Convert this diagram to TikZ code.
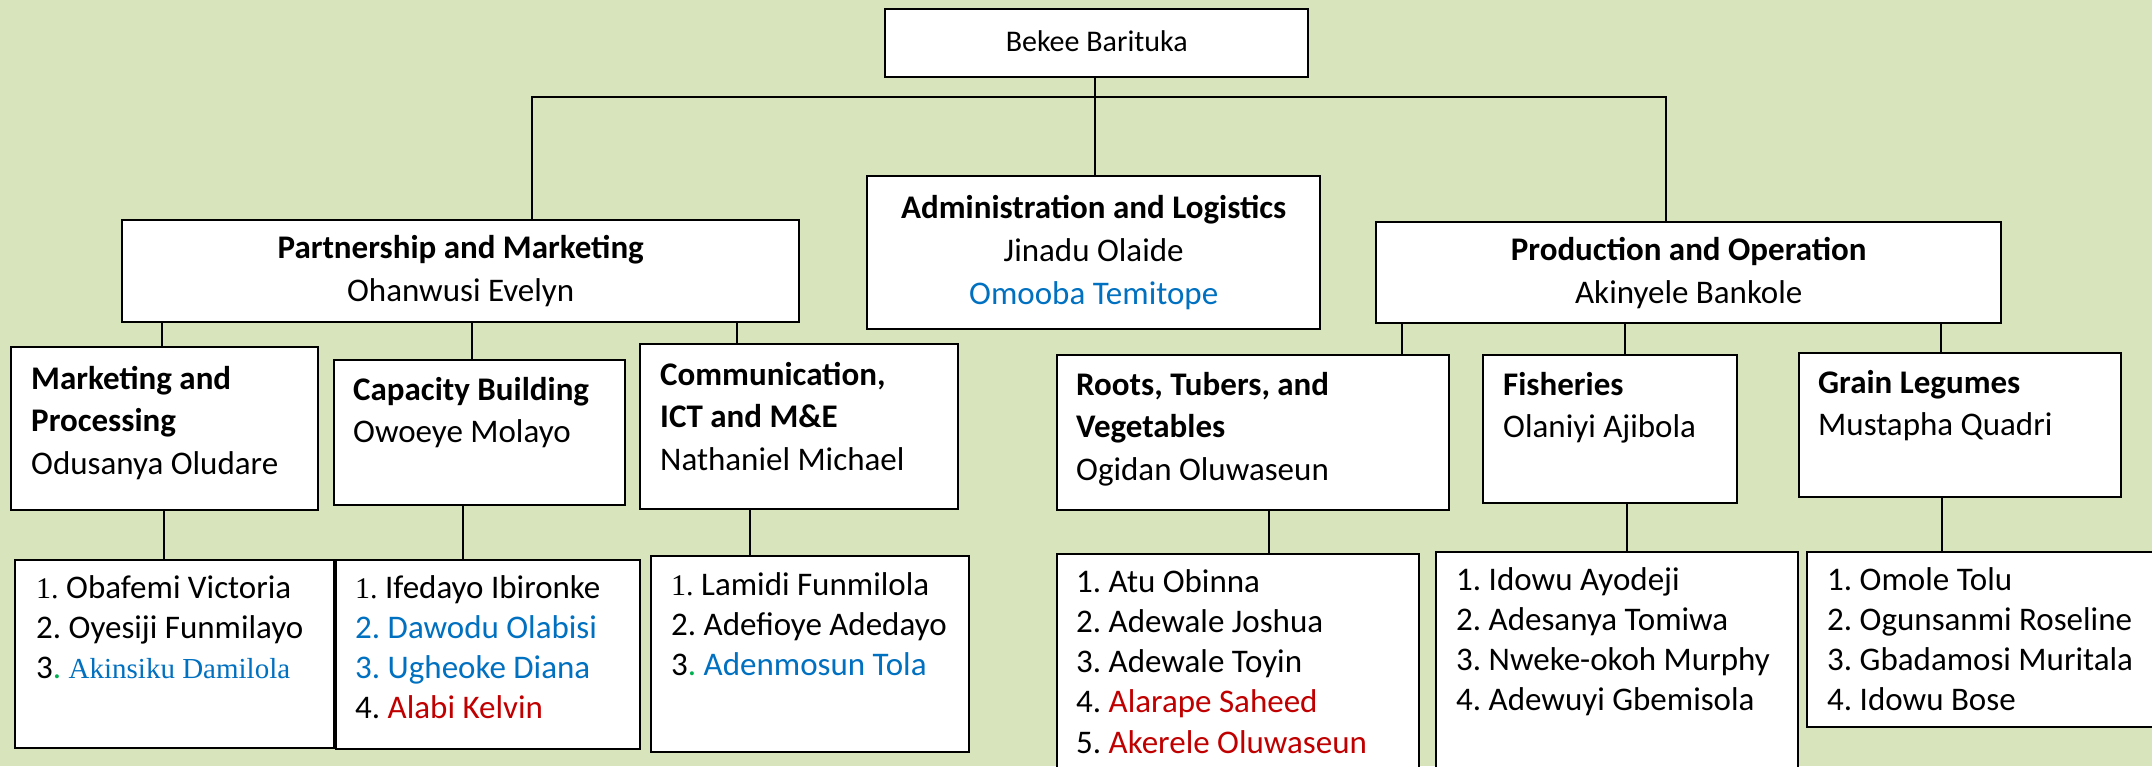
\documentclass[tikz,border=0pt]{standalone}
\usepackage{fontspec}
\setmainfont{Carlito}
\newfontfamily\numserif{Liberation Serif}
\definecolor{bgolive}{HTML}{D8E4BC}
\definecolor{namblue}{HTML}{0070C0}
\definecolor{namred}{HTML}{C00000}
\definecolor{dotgreen}{HTML}{00B050}
\frenchspacing

\begin{document}
\begin{tikzpicture}[
  x=1pt, y=-1pt,
  font=\fontsize{33}{43}\selectfont,
  unit/.style={draw=black, line width=2.4pt, fill=white, inner sep=0pt, anchor=north west},
  chief/.style={unit, align=center},
  wire/.style={black, line width=1.6pt},
  deptxt/.style={anchor=base west, inner sep=0pt, text width=390pt, align=flush left, font=\fontsize{33}{42.5}\selectfont},
  roll/.style={deptxt, font=\fontsize{33}{40.3}\selectfont},
]
\useasboundingbox (0,0) rectangle (2152,766);
\clip (0,0) rectangle (2152,766);
\fill[bgolive] (0,0) rectangle (2152,766);
% top levels
\node[unit, minimum width=423pt, minimum height=68pt, font=\fontsize{30}{36}\selectfont] (ceo) at (884,8) {\raisebox{5pt}{Bekee Barituka}};
\node[chief, minimum width=677pt, minimum height=102pt] (pm) at (121,219) {\textbf{Partnership and Marketing}\\Ohanwusi Evelyn};
\node[chief, minimum width=453pt, minimum height=153pt] (al) at (866,175) {\textbf{Administration and Logistics}\\Jinadu Olaide\\\textcolor{namblue}{Omooba Temitope}};
\node[chief, minimum width=625pt, minimum height=101pt] (po) at (1375,221) {\textbf{Production and Operation}\\Akinyele Bankole};
% units
\node[unit, minimum width=307pt, minimum height=163pt] (mp) at (10,346) {};
\node[deptxt] (mpT) at (31,389) {\textbf{Marketing and}\\\textbf{Processing}\\Odusanya Oludare};
\node[unit, minimum width=291pt, minimum height=145pt] (cb) at (333,359) {};
\node[deptxt] (cbT) at (353,400) {\textbf{Capacity Building}\\Owoeye Molayo};
\node[unit, minimum width=318pt, minimum height=165pt] (ict) at (639,343) {};
\node[deptxt] (ictT) at (660,385) {\textbf{Communication,}\\\textbf{ICT and M\&E}\\Nathaniel Michael};
\node[unit, minimum width=392pt, minimum height=155pt] (rtv) at (1056,354) {};
\node[deptxt] (rtvT) at (1076,395) {\textbf{Roots, Tubers, and}\\\textbf{Vegetables}\\Ogidan Oluwaseun};
\node[unit, minimum width=254pt, minimum height=148pt] (fish) at (1482,354) {};
\node[deptxt] (fishT) at (1503,395) {\textbf{Fisheries}\\Olaniyi Ajibola};
\node[unit, minimum width=322pt, minimum height=144pt] (grain) at (1798,352) {};
\node[deptxt] (grainT) at (1818,393) {\textbf{Grain Legumes}\\Mustapha Quadri};
% staff lists
\node[unit, minimum width=319pt, minimum height=188pt] (lmp) at (14,559) {};
\node[roll] (lmpT) at (36,598) {{\numserif\fontsize{30}{40}\selectfont 1.} Obafemi Victoria\\2. Oyesiji Funmilayo\\3\textcolor{dotgreen}{.} \textcolor{namblue}{\numserif\fontsize{29}{40}\selectfont Akinsiku Damilola}};
\node[unit, minimum width=304pt, minimum height=189pt] (lcb) at (335,559) {};
\node[roll] (lcbT) at (355,598) {{\numserif\fontsize{30}{40}\selectfont 1.} Ifedayo Ibironke\\\textcolor{namblue}{2. Dawodu Olabisi}\\\textcolor{namblue}{3. Ugheoke Diana}\\4. \textcolor{namred}{Alabi Kelvin}};
\node[unit, minimum width=318pt, minimum height=196pt] (lict) at (650,555) {};
\node[roll] (lictT) at (671,595) {{\numserif\fontsize{30}{40}\selectfont 1.} Lamidi Funmilola\\2. Adefioye Adedayo\\3\textcolor{dotgreen}{.} \textcolor{namblue}{Adenmosun Tola}};
\node[unit, minimum width=362pt, minimum height=240pt] (lrtv) at (1056,553) {};
\node[roll] (lrtvT) at (1076,592) {1. Atu Obinna\\2. Adewale Joshua\\3. Adewale Toyin\\4. \textcolor{namred}{Alarape Saheed}\\5. \textcolor{namred}{Akerele Oluwaseun}};
\node[unit, minimum width=362pt, minimum height=240pt] (lfish) at (1435,551) {};
\node[roll] (lfishT) at (1456,590) {1. Idowu Ayodeji\\2. Adesanya Tomiwa\\3. Nweke-okoh Murphy\\4. Adewuyi Gbemisola};
\node[unit, minimum width=370pt, minimum height=175pt] (lgrain) at (1806,551) {};
\node[roll] (lgrainT) at (1827,590) {1. Omole Tolu\\2. Ogunsanmi Roseline\\3. Gbadamosi Muritala\\4. Idowu Bose};
% connectors
\coordinate (busL) at (532,97);
\coordinate (busR) at (1666,97);
\draw[wire] (pm.north -| busL) -- (busL) -- (busR) -- (po.north -| busR);
\draw[wire] ([xshift=-1.5pt]ceo.south) -- ([xshift=-1.5pt]ceo.south |- al.north);
\draw[wire] ([xshift=-2.5pt]mp.north) -- ([xshift=-2.5pt]mp.north |- pm.south);
\draw[wire] ([xshift=-7.5pt]cb.north) -- ([xshift=-7.5pt]cb.north |- pm.south);
\draw[wire] ([xshift=-62pt]ict.north) -- ([xshift=-62pt]ict.north |- pm.south);
\draw[wire] ([xshift=149pt]rtv.north) -- ([xshift=149pt]rtv.north |- po.south);
\draw[wire] ([xshift=15pt]fish.north) -- ([xshift=15pt]fish.north |- po.south);
\draw[wire] ([xshift=-19pt]grain.north) -- ([xshift=-19pt]grain.north |- po.south);
\draw[wire] ([xshift=-1pt]mp.south) -- ([xshift=-1pt]mp.south |- lmp.north);
\draw[wire] ([xshift=-17pt]cb.south) -- ([xshift=-17pt]cb.south |- lcb.north);
\draw[wire] ([xshift=-49.5pt]ict.south) -- ([xshift=-49.5pt]ict.south |- lict.north);
\draw[wire] ([xshift=16pt]rtv.south) -- ([xshift=16pt]rtv.south |- lrtv.north);
\draw[wire] ([xshift=17pt]fish.south) -- ([xshift=17pt]fish.south |- lfish.north);
\draw[wire] ([xshift=-18pt]grain.south) -- ([xshift=-18pt]grain.south |- lgrain.north);
\end{tikzpicture}
\end{document}
